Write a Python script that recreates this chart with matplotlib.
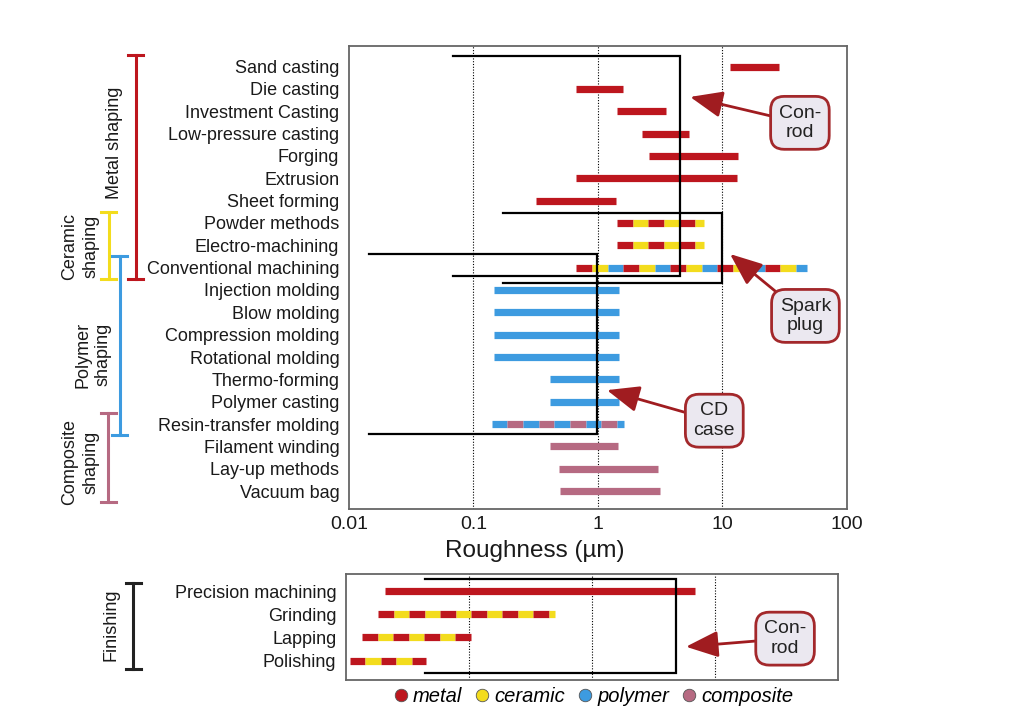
import numpy as np
import matplotlib
matplotlib.use('Agg')
import matplotlib.pyplot as plt
from matplotlib.lines import Line2D

plt.rcParams['font.family'] = ['Liberation Sans', 'DejaVu Sans']

# material colours
colors = {
    'm': '#bd161e',   # metal
    'c': '#f3dc1d',   # ceramic
    'p': '#3d9be0',   # polymer
    'k': '#b66a82',   # composite
}

# shaping processes, roughness range in micron
shaping_names = [
    'Sand casting', 'Die casting', 'Investment Casting', 'Low-pressure casting',
    'Forging', 'Extrusion', 'Sheet forming', 'Powder methods',
    'Electro-machining', 'Conventional machining', 'Injection molding',
    'Blow molding', 'Compression molding', 'Rotational molding',
    'Thermo-forming', 'Polymer casting', 'Resin-transfer molding',
    'Filament winding', 'Lay-up methods', 'Vacuum bag',
]
shaping_lo = [11.6, 0.67, 1.42, 2.26, 2.58, 0.67, 0.316, 1.42, 1.42, 0.67,
              0.147, 0.147, 0.147, 0.147, 0.41, 0.41, 0.14, 0.41, 0.49, 0.50]
shaping_hi = [28.5, 1.6, 3.5, 5.4, 13.4, 13.0, 1.40, 7.1, 7.1, 48.0,
              1.47, 1.47, 1.47, 1.47, 1.47, 1.47, 1.61, 1.46, 3.05, 3.15]
shaping_mat = ['m', 'm', 'm', 'm', 'm', 'm', 'm', 'mc', 'mc', 'mcp',
               'p', 'p', 'p', 'p', 'p', 'p', 'pk', 'k', 'k', 'k']

# finishing processes
finish_names = ['Precision machining', 'Grinding', 'Lapping', 'Polishing']
finish_lo = [0.0207, 0.0183, 0.0136, 0.0107]
finish_hi = [6.93, 0.50, 0.103, 0.045]
finish_mat = ['m', 'mc', 'mc', 'mc']

# process groups: label, first row, last row, colour
groups = [
    ('Metal shaping', 0, 9, colors['m']),
    ('Ceramic\nshaping', 7, 9, colors['c']),
    ('Polymer\nshaping', 9, 16, colors['p']),
    ('Composite\nshaping', 16, 19, colors['k']),
]

# design requirement windows: (x left, x right, row top, row bottom)
conrod_box = (0.069, 4.6, -0.45, 9.37)
spark_box = (0.172, 9.9, 6.56, 9.67)
cd_box = (0.0145, 0.98, 8.39, 16.46)
conrod_finish_box = (0.044, 4.85, -0.55, 3.52)

ticks = [0.01, 0.1, 1, 10, 100]
tick_labels = ['0.01', '0.1', '1', '10', '100']

BAR_LW = 5.2
STEP = 0.126  # decades per dash


def draw_bar(ax, y, lo, hi, mats):
    ''' draw one roughness range, striped if several materials'''
    if len(mats) == 1:
        ax.hlines(y, lo, hi, color=colors[mats], lw=BAR_LW, capstyle='butt', zorder=3)
        return
    edges = list(10 ** np.arange(np.log10(lo), np.log10(hi), STEP)) + [hi]
    for i in range(len(edges) - 1):
        ax.hlines(y, edges[i], edges[i + 1], color=colors[mats[i % len(mats)]],
                  lw=BAR_LW, capstyle='butt', zorder=3)


def draw_window(ax, box):
    ''' open bracket showing the design window'''
    x0, x1, y0, y1 = box
    ax.plot([x0, x1, x1, x0], [y0, y0, y1, y1], color='black', lw=1.6,
            solid_joinstyle='miter', zorder=4)


def style_axes(ax, n):
    ax.set_xscale('log')
    ax.set_xlim(0.01, 100)
    ax.set_yticks(range(n))
    ax.tick_params(axis='both', length=0, labelsize=13, pad=7, labelcolor='#1a1a1a')
    ax.minorticks_off()
    for x in ticks[1:-1]:
        ax.axvline(x, color='black', lw=0.8, ls=(0, (1, 1.5)), zorder=1)
    for s in ax.spines.values():
        s.set_color('#666666')
        s.set_linewidth(1.3)


def callout(ax, text, xy, xytext):
    ax.annotate(
        text, xy=xy, xytext=xytext, ha='center', va='center', fontsize=14,
        color='#222222', linespacing=1.2, zorder=6,
        bbox=dict(boxstyle='round,pad=0.42,rounding_size=0.7', fc='#ebe8f0',
                  ec='#a3282b', lw=2),
        arrowprops=dict(arrowstyle='-|>,head_length=1.1,head_width=0.45',
                        color='#a01c20', lw=2, mutation_scale=18,
                        shrinkA=0, shrinkB=0),
    )


def group_bracket(ax, label, first, last, color, xb, xt, ylab, pad=0.5):
    trans = ax.get_yaxis_transform()
    y0, y1 = first - pad, last + pad
    cap = 0.015
    ax.plot([xb, xb], [y0, y1], color=color, lw=2.2, transform=trans, clip_on=False)
    for yy in (y0, y1):
        ax.plot([xb - cap, xb + cap], [yy, yy], color=color, lw=2.2,
                transform=trans, clip_on=False)
    ax.text(xt, ylab, label, rotation=90, ha='center', va='center', fontsize=13,
            linespacing=1.3, transform=trans, color='#1a1a1a')


fig = plt.figure(figsize=(10.24, 7.24), dpi=100)
ax = fig.add_axes([0.3408, 0.2970, 0.4863, 0.6395])
ax2 = fig.add_axes([0.3379, 0.0608, 0.4805, 0.1464])

# shaping panel
style_axes(ax, len(shaping_names))
ax.set_yticklabels(shaping_names)
ax.set_ylim(19.8, -0.92)
for i in range(len(shaping_names)):
    draw_bar(ax, i, shaping_lo[i], shaping_hi[i], shaping_mat[i])
for box in (conrod_box, spark_box, cd_box):
    draw_window(ax, box)
ax.set_xticks(ticks)
ax.set_xticklabels(tick_labels, fontsize=14)
ax.tick_params(axis='x', pad=5)
fig.text(535 / 1024, 1 - 551 / 724, 'Roughness (\u00b5m)', fontsize=17.5,
         ha='center', va='center', color='#1a1a1a')

callout(ax, 'Con-\nrod', xy=(5.5, 1.36), xytext=(41.9, 2.52))
callout(ax, 'Spark\nplug', xy=(11.5, 8.39), xytext=(46.4, 11.16))
callout(ax, 'CD\ncase', xy=(1.18, 14.48), xytext=(8.6, 15.85))

label_pos = [(-0.428, -0.47, 3.42), (-0.4825, -0.54, 8.06),
             (-0.46, -0.514, 12.9), (-0.483, -0.54, 17.7)]
for (label, first, last, color), (xb, xt, ylab) in zip(groups, label_pos):
    group_bracket(ax, label, first, last, color, xb, xt, ylab)

# finishing panel
style_axes(ax2, len(finish_names))
ax2.set_yticklabels(finish_names)
ax2.set_ylim(3.84, -0.75)
ax2.set_xticks(ticks)
ax2.set_xticklabels([])
for i in range(len(finish_names)):
    draw_bar(ax2, i, finish_lo[i], finish_hi[i], finish_mat[i])
draw_window(ax2, conrod_finish_box)
callout(ax2, 'Con-\nrod', xy=(5.8, 2.4), xytext=(37.1, 2.05))
group_bracket(ax2, 'Finishing', 0, 3, '#222222', -0.432, -0.478, 1.46, pad=0.38)

# legend
handles = [Line2D([], [], ls='', marker='o', ms=9, mfc=colors[k], mec='#555555', mew=0.6)
           for k in 'mcpk']
fig.legend(handles, ['metal', 'ceramic', 'polymer', 'composite'],
           loc='center', bbox_to_anchor=(592 / 1024, 1 - 697 / 724), ncol=4,
           frameon=False, prop=dict(style='italic', size=14.5),
           handletextpad=0.1, columnspacing=0.5, handlelength=1.0)

fig.savefig('out.png', dpi=100, facecolor='white')
